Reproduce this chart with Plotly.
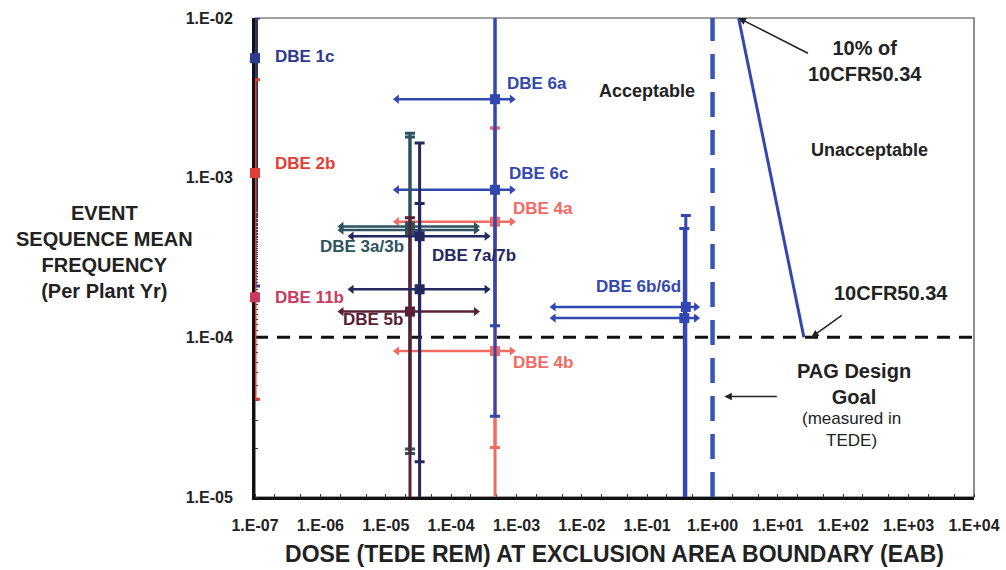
import plotly.graph_objects as go

# ---------------- data ----------------
event_names = ["DBE 4a", "DBE 4b", "DBE 6a", "DBE 6c", "DBE 6b", "DBE 6d",
               "DBE 3a", "DBE 3b", "DBE 5b", "DBE 7a", "DBE 7b",
               "DBE 1c", "DBE 2b", "DBE 11b"]
dose_mean = [4.7e-4, 4.7e-4, 4.7e-4, 4.7e-4, 0.39, 0.37,
             2.35e-5, 2.35e-5, 2.35e-5, 3.3e-5, 3.3e-5,
             1e-7, 1e-7, 1e-7]
dose_low = [1.48e-5, 1.48e-5, 1.48e-5, 1.48e-5, 3.7e-3, 3.7e-3,
            2.1e-6, 2.1e-6, 2.1e-6, 3.0e-6, 3.0e-6,
            None, None, None]
dose_high = [8.5e-4, 8.5e-4, 8.5e-4, 8.5e-4, 0.56, 0.56,
             2.4e-4, 2.4e-4, 2.4e-4, 3.5e-4, 3.5e-4,
             None, None, None]
freq_mean = [5.3e-4, 8.2e-5, 3.1e-3, 8.4e-4, 1.55e-4, 1.32e-4,
             4.95e-4, 4.7e-4, 1.45e-4, 4.3e-4, 2.0e-4,
             5.6e-3, 1.07e-3, 1.78e-4]
freq_low = [2.04e-5, 5e-6, 1.18e-4, 3.2e-5, 5e-6, 5e-6,
            1.87e-5, 2.0e-5, 5e-6, 1.66e-5, 5e-6,
            2.1e-4, 4.1e-5, None]
freq_high = [2.05e-3, 2.05e-3, 2e-2, 2e-2, 5.8e-4, 4.8e-4,
             1.9e-3, 1.8e-3, 5.6e-4, 1.65e-3, 6.9e-4,
             1e-2, 4.1e-3, None]
event_colors = ["#F26B63", "#F26B63", "#3347B0", "#3347B0", "#3347B0", "#3347B0",
                "#2E5360", "#2E5360", "#5A2035", "#23285E", "#23285E",
                "#2B3990", "#E43D33", "#C93A5E"]

# label texts and positions (log10 coordinates)
label_texts = ["DBE 1c", "DBE 2b", "DBE 11b", "DBE 3a/3b", "DBE 7a/7b", "DBE 5b",
               "DBE 6a", "DBE 6c", "DBE 4a", "DBE 4b", "DBE 6b/6d"]
label_x = [-6.72, -6.72, -6.73, -6.03, -4.32, -5.69, -3.17, -3.15, -3.09, -3.09, -1.81]
label_y = [-2.24, -2.91, -3.75, -3.43, -3.49, -3.89, -2.41, -2.975, -3.19, -4.16, -3.68]
label_colors = ["#2B3990", "#E43D33", "#C93A5E", "#2E5360", "#23285E", "#5A2035",
                "#3347B0", "#3347B0", "#F26B63", "#F26B63", "#3347B0"]

# reference lines
pag_goal_dose = 1.0
cfr_freq_limit = 1e-4
cfr_line_dose = [2.5, 25.0]
cfr_line_freq = [1e-2, 1e-4]

x_tickvals = [1e-7, 1e-6, 1e-5, 1e-4, 1e-3, 1e-2, 1e-1, 1e0, 1e1, 1e2, 1e3, 1e4]
x_ticktext = ["1.E-07", "1.E-06", "1.E-05", "1.E-04", "1.E-03", "1.E-02", "1.E-01",
              "1.E+00", "1.E+01", "1.E+02", "1.E+03", "1.E+04"]
y_tickvals = [1e-5, 1e-4, 1e-3, 1e-2]
y_ticktext = ["1.E-05", "1.E-04", "1.E-03", "1.E-02"]

FONT = "Liberation Sans"
TXT = "#222222"

fig = go.Figure()

# reference lines
fig.add_trace(go.Scatter(x=[1e-7, 1e4], y=[cfr_freq_limit, cfr_freq_limit], mode="lines",
                         line=dict(color="#111111", width=3, dash="13px,9px"),
                         hoverinfo="skip", showlegend=False))
fig.add_trace(go.Scatter(x=[pag_goal_dose, pag_goal_dose], y=[1e-5, 1e-2], mode="lines",
                         line=dict(color="#3A55B5", width=4.5, dash="25px,13px"),
                         hoverinfo="skip", showlegend=False))
fig.add_trace(go.Scatter(x=cfr_line_dose, y=cfr_line_freq, mode="lines",
                         line=dict(color="#3347B0", width=3),
                         hoverinfo="skip", showlegend=False))

# events
for i, name in enumerate(event_names):
    c = event_colors[i]
    xm, ym = dose_mean[i], freq_mean[i]
    ex = None
    if dose_low[i] is not None:
        ex = dict(type="data", symmetric=False,
                  array=[dose_high[i] - xm], arrayminus=[xm - dose_low[i]],
                  color=c, thickness=2.5, width=0)
    ey = None
    if freq_low[i] is not None:
        ey = dict(type="data", symmetric=False,
                  array=[freq_high[i] - ym], arrayminus=[ym - freq_low[i]],
                  color=c, thickness=3, width=5)
    fig.add_trace(go.Scatter(x=[xm], y=[ym], mode="markers",
                             marker=dict(symbol="square", size=10, color=c),
                             error_x=ex, error_y=ey, name=name,
                             cliponaxis=False, showlegend=False))
    if dose_low[i] is not None:
        fig.add_trace(go.Scatter(x=[dose_low[i], dose_high[i]], y=[ym, ym], mode="markers",
                                 marker=dict(symbol=["triangle-left", "triangle-right"],
                                             size=8, color=c),
                                 hoverinfo="skip", showlegend=False))

annotations = []
for t, lx, ly, lc in zip(label_texts, label_x, label_y, label_colors):
    annotations.append(dict(x=lx, y=ly, text="<b>%s</b>" % t, showarrow=False,
                            xanchor="left", yanchor="middle",
                            font=dict(family=FONT, size=17, color=lc)))

annotations += [
    dict(x=-1.01, y=-2.46, text="<b>Acceptable</b>", showarrow=False,
         font=dict(family=FONT, size=18, color=TXT)),
    dict(x=2.40, y=-2.825, text="<b>Unacceptable</b>", showarrow=False,
         font=dict(family=FONT, size=18, color=TXT)),
    dict(x=2.33, y=-2.27, text="<b>10% of<br>10CFR50.34</b>", showarrow=False,
         font=dict(family=FONT, size=20, color=TXT)),
    dict(x=2.73, y=-3.725, text="<b>10CFR50.34</b>", showarrow=False,
         font=dict(family=FONT, size=20, color=TXT)),
    dict(x=2.17, y=-4.29, text="<b>PAG Design<br>Goal</b>", showarrow=False,
         font=dict(family=FONT, size=20, color=TXT)),
    dict(x=2.12, y=-4.58, text="(measured in<br>TEDE)", showarrow=False,
         font=dict(family=FONT, size=17, color=TXT)),
    # arrows
    dict(x=0.396, y=-2.0, ax=71, ay=36, text="", showarrow=True, arrowhead=2,
         arrowsize=1, arrowwidth=1.5, arrowcolor="#222222"),
    dict(x=1.51, y=-4.0, ax=32, ay=-23, text="", showarrow=True, arrowhead=2,
         arrowsize=1, arrowwidth=1.5, arrowcolor="#222222"),
    dict(x=0.18, y=-4.37, ax=54, ay=0, text="", showarrow=True, arrowhead=2,
         arrowsize=1, arrowwidth=1.5, arrowcolor="#222222"),
    # y axis title
    dict(xref="paper", yref="paper", x=-0.21, y=0.511,
         text="<b>EVENT<br>SEQUENCE MEAN<br>FREQUENCY<br>(Per Plant Yr)</b>",
         showarrow=False, xanchor="center", yanchor="middle",
         font=dict(family=FONT, size=20, color=TXT)),
]

fig.update_layout(
    width=1006, height=570,
    margin=dict(l=255, r=32, t=18, b=73, autoexpand=False),
    paper_bgcolor="white", plot_bgcolor="white",
    showlegend=False,
    annotations=annotations,
    shapes=[dict(type="rect", xref="paper", yref="paper", x0=0, x1=1, y0=0, y1=1,
                 line=dict(color="#444444", width=1.2), layer="below")],
    xaxis=dict(type="log", range=[-7, 4], tickvals=x_tickvals,
               ticktext=["<b>%s</b>" % t for t in x_ticktext],
               showgrid=False, zeroline=False, showline=True, linecolor="#111111",
               linewidth=3, ticks="", ticklabelstandoff=12, automargin=False,
               tickfont=dict(family=FONT, size=16, color=TXT),
               minor=dict(ticks="inside", ticklen=3, tickcolor="#333333", showgrid=False),
               title=dict(text="<b>DOSE (TEDE REM) AT EXCLUSION AREA BOUNDARY (EAB)</b>",
                          font=dict(family=FONT, size=23, color=TXT), standoff=13),
               layer="below traces"),
    yaxis=dict(type="log", range=[-5, -2], tickvals=y_tickvals,
               ticktext=["<b>%s</b>" % t for t in y_ticktext],
               showgrid=False, zeroline=False, showline=True, linecolor="#111111",
               linewidth=3, ticks="", ticklabelstandoff=16, automargin=False,
               tickfont=dict(family=FONT, size=16, color=TXT),
               minor=dict(ticks="inside", ticklen=3, tickcolor="#333333", showgrid=False),
               layer="below traces"),
)

fig.write_html("out.html", config={"displayModeBar": False},
               post_script="document.body.style.margin='0';")
